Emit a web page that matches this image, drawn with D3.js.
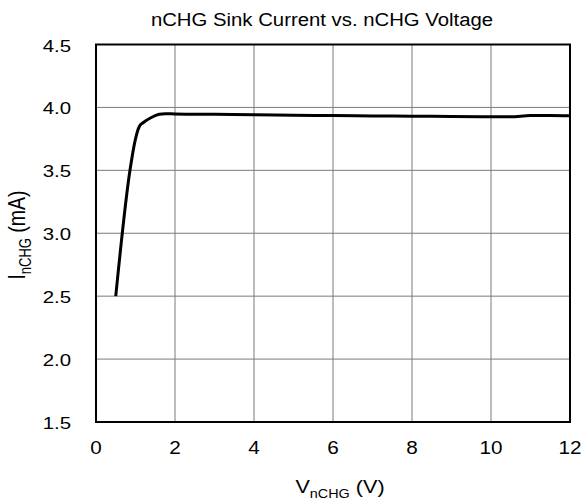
<!DOCTYPE html>
<html><head><meta charset="utf-8">
<script src="https://cdn.jsdelivr.net/npm/d3@7"></script>
<style>body{margin:0;background:#fff}text{font-family:Arial,"Liberation Sans",sans-serif;fill:#000}</style>
</head><body>
<svg id="c" width="583" height="501"></svg>
<script>
const vData = [0.5, 0.86, 1.0, 1.1, 1.2, 1.4, 1.6, 1.75, 2, 3, 4, 5, 6, 7, 8, 9, 10, 10.5, 11, 11.5, 12];
const iData = [2.5, 3.5, 3.75, 3.85, 3.88, 3.92, 3.945, 3.95, 3.948, 3.945, 3.942, 3.938, 3.935, 3.932, 3.93, 3.928, 3.926, 3.926, 3.935, 3.935, 3.933];
const xTicks = [0, 2, 4, 6, 8, 10, 12];
const yTicks = [1.5, 2.0, 2.5, 3.0, 3.5, 4.0, 4.5];

const svg = d3.select("#c");
const L = 96, R = 570, T = 44.5, B = 422;
const x = d3.scaleLinear().domain([0, 12]).range([L, R]);
const y = d3.scaleLinear().domain([1.5, 4.5]).range([B, T]);

function sText(g, px, py, sx, anchor, size) {
  return g.append("text")
    .attr("transform", `translate(${px},${py}) scale(${sx},1)`)
    .attr("text-anchor", anchor).attr("font-size", size);
}

// grid
svg.append("g").selectAll("line").data(xTicks).join("line")
  .attr("x1", d => x(d)).attr("x2", d => x(d)).attr("y1", T).attr("y2", B)
  .attr("stroke", "#7a7a7a").attr("stroke-width", 1);
svg.append("g").selectAll("line").data(yTicks).join("line")
  .attr("y1", d => y(d)).attr("y2", d => y(d)).attr("x1", L).attr("x2", R)
  .attr("stroke", "#7a7a7a").attr("stroke-width", 1);

// curve
const pts = vData.map((v, i) => [v, iData[i]]);
svg.append("path").datum(pts)
  .attr("fill", "none").attr("stroke", "#000").attr("stroke-width", 3)
  .attr("stroke-linejoin", "round")
  .attr("d", d3.line().x(d => x(d[0])).y(d => y(d[1])).curve(d3.curveMonotoneX));

// frame
svg.append("rect").attr("x", L).attr("y", T).attr("width", R - L).attr("height", B - T)
  .attr("fill", "none").attr("stroke", "#000").attr("stroke-width", 2);

// tick labels
const gx = svg.append("g");
xTicks.forEach(d => sText(gx, x(d), 454, 1.15, "middle", 18).text(d));
const gy = svg.append("g");
yTicks.forEach(d => sText(gy, 71, y(d) + 7, 1.2, "end", 17).text(d.toFixed(1)));

// title
sText(svg, 322, 25.5, 1.13, "middle", 18).text("nCHG Sink Current vs. nCHG Voltage");

// x label
const xl = sText(svg, 340, 493, 1.2, "middle", 18);
xl.append("tspan").text("V");
xl.append("tspan").attr("font-size", 12).attr("dy", 5).text("nCHG");
xl.append("tspan").attr("dy", -5).text(" (V)");

// y label
const yl = svg.append("text").attr("transform", "translate(25,235) scale(1.2,1) rotate(-90)")
  .attr("text-anchor", "middle").attr("font-size", 19.5);
yl.append("tspan").text("I");
yl.append("tspan").attr("font-size", 13).attr("dy", 5).text("nCHG");
yl.append("tspan").attr("dy", -5).text(" (mA)");
</script>
</body></html>
